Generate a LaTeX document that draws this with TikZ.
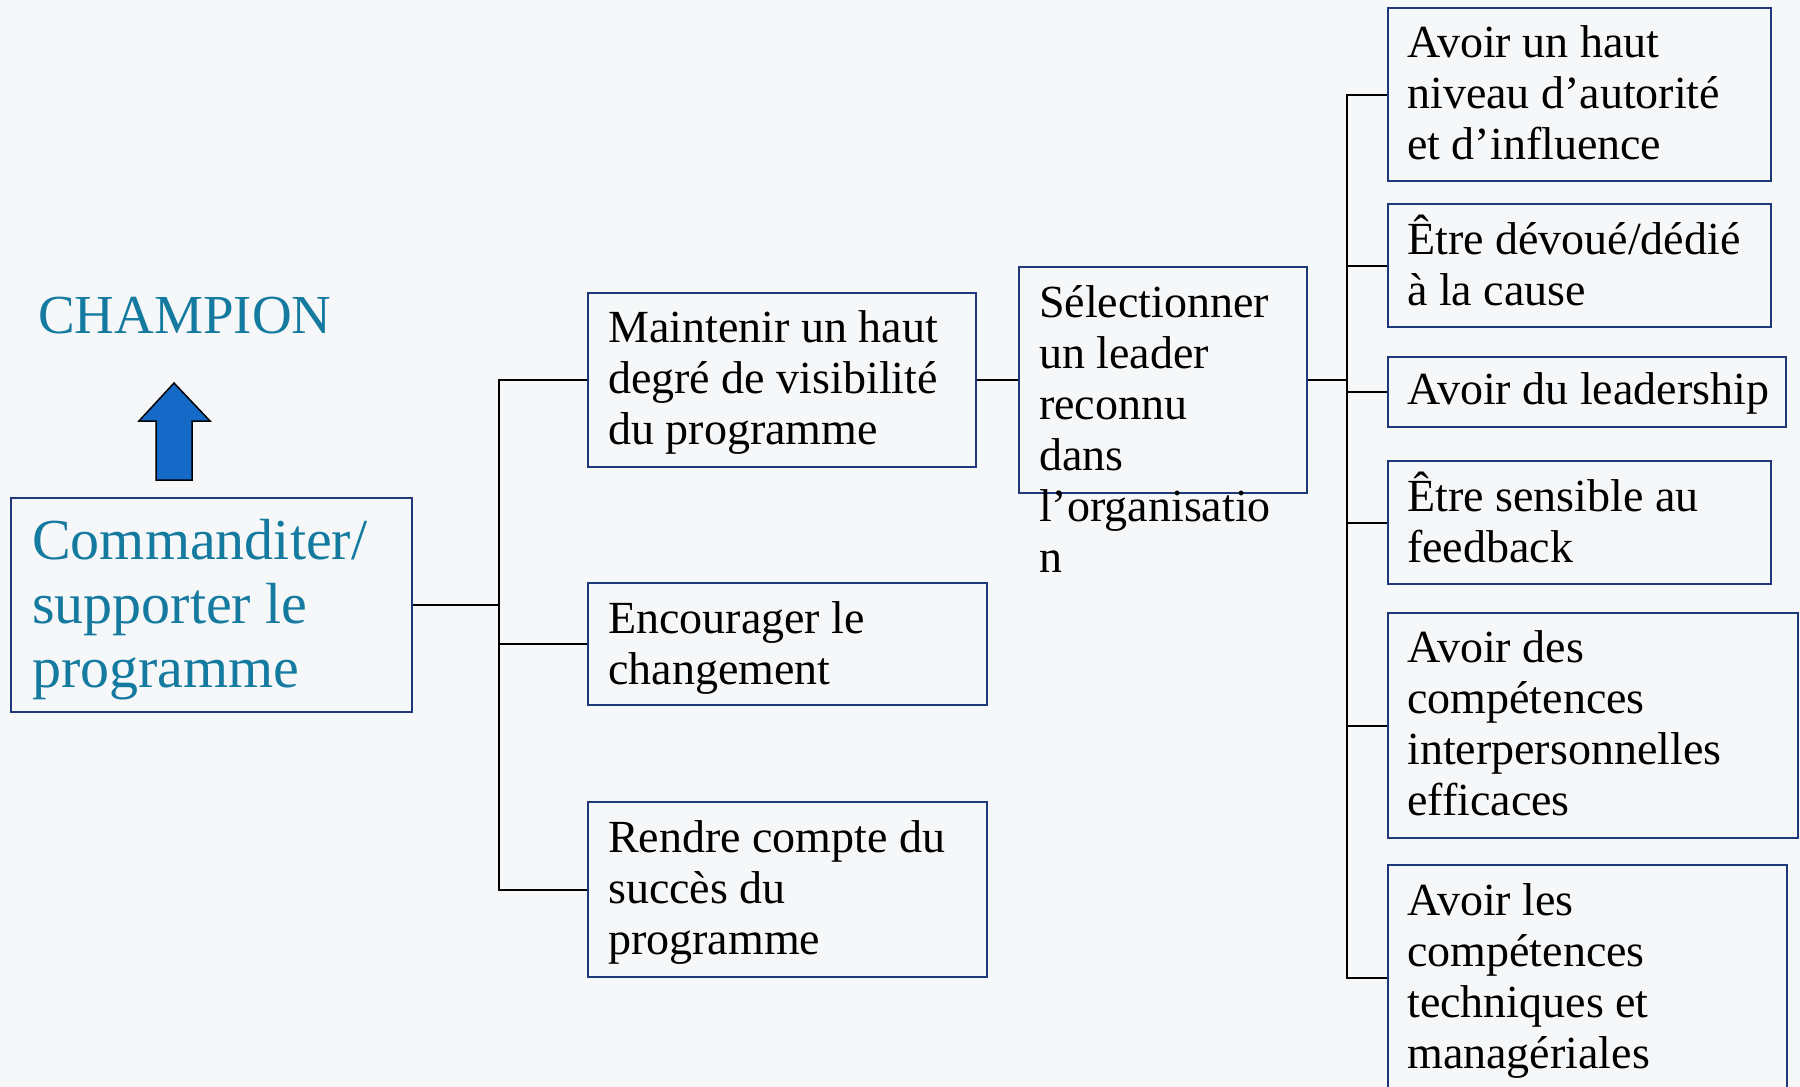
\documentclass[tikz,border=0pt]{standalone}
\usepackage{fontspec}
\setmainfont{Liberation Serif}
\definecolor{bgc}{RGB}{246,247,248}
\definecolor{navy}{RGB}{31,56,122}
\definecolor{tealtxt}{RGB}{20,122,160}
\definecolor{arrowblue}{RGB}{21,105,199}
\begin{document}
\begin{tikzpicture}[x=1pt,y=-1pt,
  box/.style={draw=navy,line width=2pt,rectangle,inner sep=0pt,anchor=north west},
  lbl/.style={anchor=north west,inner sep=0pt,align=left,font=\fontsize{46}{51}\selectfont},
  link/.style={draw=black,line width=2pt}]
\fill[bgc] (0,0) rectangle (1800,1087);
\useasboundingbox (0,0) rectangle (1800,1087);
\newcommand{\fs}{\rule{0pt}{44pt}}
% title and arrow
\node[anchor=base west,inner sep=0pt,text=tealtxt,font=\fontsize{55}{60}\selectfont] (champ) at (38,333) {CHAMPION};
\draw[fill=arrowblue,line width=1.5pt,line join=miter] (174,383) -- (210,421) -- (192,421) -- (192,480) -- (156,480) -- (156,421) -- (139,421) -- cycle;
% boxes
\node[box,minimum width=401pt,minimum height=214pt] (cmd) at (10,497) {};
\node[box,minimum width=388pt,minimum height=174pt] (maint) at (587,292) {};
\node[box,minimum width=399pt,minimum height=122pt] (enc) at (587,582) {};
\node[box,minimum width=399pt,minimum height=175pt] (rend) at (587,801) {};
\node[box,minimum width=288pt,minimum height=226pt] (sel) at (1018,266) {};
\node[box,minimum width=383pt,minimum height=173pt] (r1) at (1387,7) {};
\node[box,minimum width=383pt,minimum height=123pt] (r2) at (1387,203) {};
\node[box,minimum width=398pt,minimum height=70pt] (r3) at (1387,356) {};
\node[box,minimum width=383pt,minimum height=123pt] (r4) at (1387,460) {};
\node[box,minimum width=410pt,minimum height=225pt] (r5) at (1387,612) {};
\node[box,minimum width=399pt,minimum height=226pt] (r6) at (1387,864) {};
% texts
\node[lbl,text=tealtxt,font=\fontsize{58}{64}\selectfont] (tcmd) at (32,503) {\rule{0pt}{56pt}Commanditer/\\supporter le\\programme};
\node[lbl] (tmaint) at (608,298) {\fs Maintenir un haut\\degré de visibilité\\du programme};
\node[lbl] (tenc) at (608,589) {\fs Encourager le\\changement};
\node[lbl] (trend) at (608,808) {\fs Rendre compte du\\succès du\\programme};
\node[lbl] (tsel) at (1039,273) {\fs Sélectionner\\un leader\\reconnu\\dans\\l’organisatio\\n};
\node[lbl] (tr1) at (1407,13) {\fs Avoir un haut\\niveau d’autorité\\et d’influence};
\node[lbl] (tr2) at (1407,210) {\fs Être dévoué/dédié\\à la cause};
\node[lbl] (tr3) at (1407,360) {\fs Avoir du leadership};
\node[lbl] (tr4) at (1407,467) {\fs Être sensible au\\feedback};
\node[lbl] (tr5) at (1407,618) {\fs Avoir des\\compétences\\interpersonnelles\\efficaces};
\node[lbl] (tr6) at (1407,871) {\fs Avoir les\\compétences\\techniques et\\managériales};
% connectors
\coordinate (t1x) at (499,0);
\coordinate (t2x) at (1347,0);
\coordinate (t1) at (cmd.east -| t1x);
\coordinate (t2) at (sel.east -| t2x);
\draw[link] (cmd.east) -- (t1);
\foreach \b in {maint,enc,rend} \draw[link] (t1) |- (\b.west);
\draw[link] (maint.east) -- (maint.east -| sel.west);
\draw[link] (sel.east) -- (t2);
\foreach \b in {r1,r2,r3,r4,r5,r6} \draw[link] (t2) |- (\b.west);
\end{tikzpicture}
\end{document}
